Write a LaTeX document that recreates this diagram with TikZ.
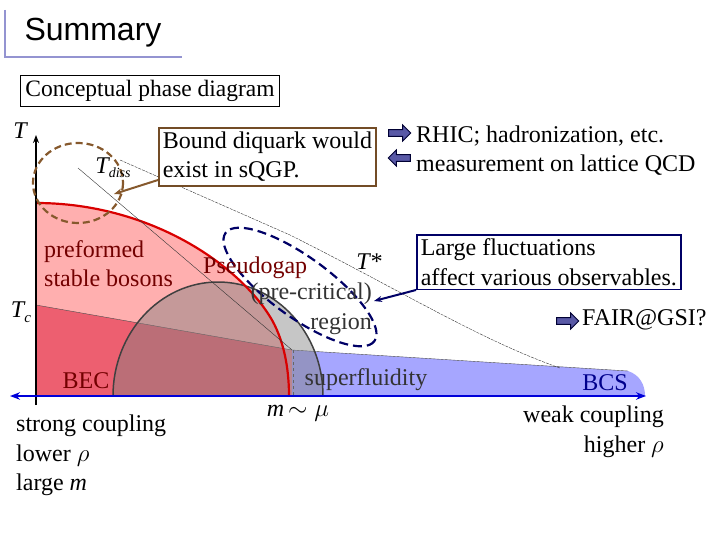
\documentclass[tikz,border=0pt]{standalone}
\usepackage{fontspec}
\setmainfont{Liberation Serif}
\newfontfamily\sansf{Liberation Sans}
\usetikzlibrary{arrows.meta,shapes.arrows}
\begin{document}
\begin{tikzpicture}[x=1pt,y=-1pt,
  txt/.style={font=\fontsize{24}{29.5}\selectfont, inner sep=0pt, align=left},
  boxb/.style={draw=#1, line width=1.6pt, fill=white, inner sep=4pt},
  fat/.style={single arrow, draw=black!80!blue, fill=blue!30!gray, line width=1pt, minimum height=22pt, minimum width=16pt, single arrow head extend=2pt, inner sep=1pt}]
\useasboundingbox (0,0) rectangle (720,540);
% title
\draw[color=gray!60!blue!60, line width=2pt] (5,10) -- (5,57) -- (182,57);
\node[anchor=west, font=\sansf\fontsize{32}{34}\selectfont] (title) at (21,33) {Summary};
\node[draw=black, line width=0.8pt, anchor=north west, inner sep=5pt, font=\fontsize{23.5}{26}\selectfont] (cpd) at (20,75) {Conceptual phase diagram};
% regions
\fill[red!35, opacity=0.9] (36,203) .. controls (150,203) and (240,265) .. (272,320) .. controls (286,345) and (289,375) .. (289,396) -- (36,396) -- cycle;
\fill[purple!60!red, opacity=0.45] (36,305) -- (292,350) -- (292,396) -- (36,396) -- cycle;
\fill[blue!35] (292,350) -- (628,371) .. controls (640,375) and (645,385) .. (645,396) -- (292,396) -- cycle;
\draw[black!70, line width=0.4pt] (36,305) -- (292,350) -- (628,371);
\fill[gray, opacity=0.45] (113,396) arc[start angle=180, end angle=360, x radius=105, y radius=114] -- cycle;
\draw[black!75, line width=1.5pt] (113,396) arc[start angle=180, end angle=360, x radius=105, y radius=114];
\draw[red!85!black, line width=2.2pt] (36,203) .. controls (150,203) and (240,265) .. (272,320) .. controls (286,345) and (289,375) .. (289,396);
\draw[dashed, black!60, line width=0.4pt] (293,350) -- (293,396);
\draw[black!80, line width=0.4pt] (78,168) -- (292,350);
\draw[black!80, line width=0.4pt, dash pattern=on 3pt off 1pt] (120,160) -- (290,235) .. controls (400,290) and (480,340) .. (560,368);
% axes
\draw[-{Stealth[length=8pt]}, line width=1.5pt] (36,405) -- (36,135);
\draw[{Stealth[length=10pt]}-{Stealth[length=10pt]}, blue!85!black, line width=2.2pt] (10,396) -- (646,396);
% ellipses
\draw[brown!70!black, dash pattern=on 7pt off 4pt, line width=2.2pt] (78,183) ellipse[x radius=45, y radius=40];
\draw[blue!40!black, dash pattern=on 9pt off 5pt, line width=2.2pt, rotate around={-36:(300,287)}] (300,287) ellipse[x radius=92, y radius=30];
% labels
\node[txt, font=\itshape\fontsize{24}{26}\selectfont] (T) at (20,131) {T};
\node[txt] (tdiss) at (113,168) {\itshape T\fontsize{14}{14}\selectfont\raisebox{-4pt}{diss}};
\node[txt, font=\itshape\fontsize{24}{26}\selectfont] (Tc) at (21,312) {T\fontsize{15}{15}\selectfont\raisebox{-5pt}{c}};
\node[txt, text=red!45!black, anchor=north west] (pre) at (44,240) {preformed\\stable bosons};
\node[txt, text=red!45!black, anchor=west] (pg) at (203,268) {Pseudogap};
\node[txt, text=black!80, anchor=north east, align=right] (pc) at (372,283) {(pre-critical)\\region};
\node[txt, font=\itshape\fontsize{24}{26}\selectfont] (Ts) at (369,262) {T*};
\node[txt, text=red!45!black] (bec) at (86,381) {BEC};
\node[txt, text=black!80] (sf) at (366,380) {superfluidity};
\node[txt, text=blue!55!black] (bcs) at (605,383) {BCS};
\node[txt] (mmu) at (298,413) {\itshape m\,$\sim\mu$};
\node[txt, anchor=north west] (sc) at (16,415) {strong coupling\\lower $\rho$\\large \itshape m};
\node[txt, anchor=north east, align=right] (wc) at (664,406) {weak coupling\\higher $\rho$};
% boxes
\node[boxb=brown!60!black, txt, inner sep=4pt, anchor=north west] (bd) at (158,127) {Bound diquark would\\exist in sQGP.};
\draw[-{Stealth[length=8pt]}, brown!70!black, line width=2pt] (bd.west |- 0,180) -- (114,194);
\node[boxb=blue!40!black, txt, inner sep=4pt, anchor=north west] (lf) at (416,234) {Large fluctuations\\affect various observables.};
\draw[-{Stealth[length=8pt]}, blue!40!black, line width=2pt] (lf.west |- 0,290) -- (374,301);
\node[fat] (a1) at (398,133) {};
\node[fat, shape border rotate=180] (a2) at (401,158) {};
\node[fat] (a3) at (566,321) {};
\node[txt, anchor=west] (rhic) at (416,136) {RHIC; hadronization, etc.};
\node[txt, anchor=west] (lat) at (416,165) {measurement on lattice QCD};
\node[txt, anchor=west] (fair) at (582,320) {FAIR@GSI?};
\end{tikzpicture}
\end{document}
